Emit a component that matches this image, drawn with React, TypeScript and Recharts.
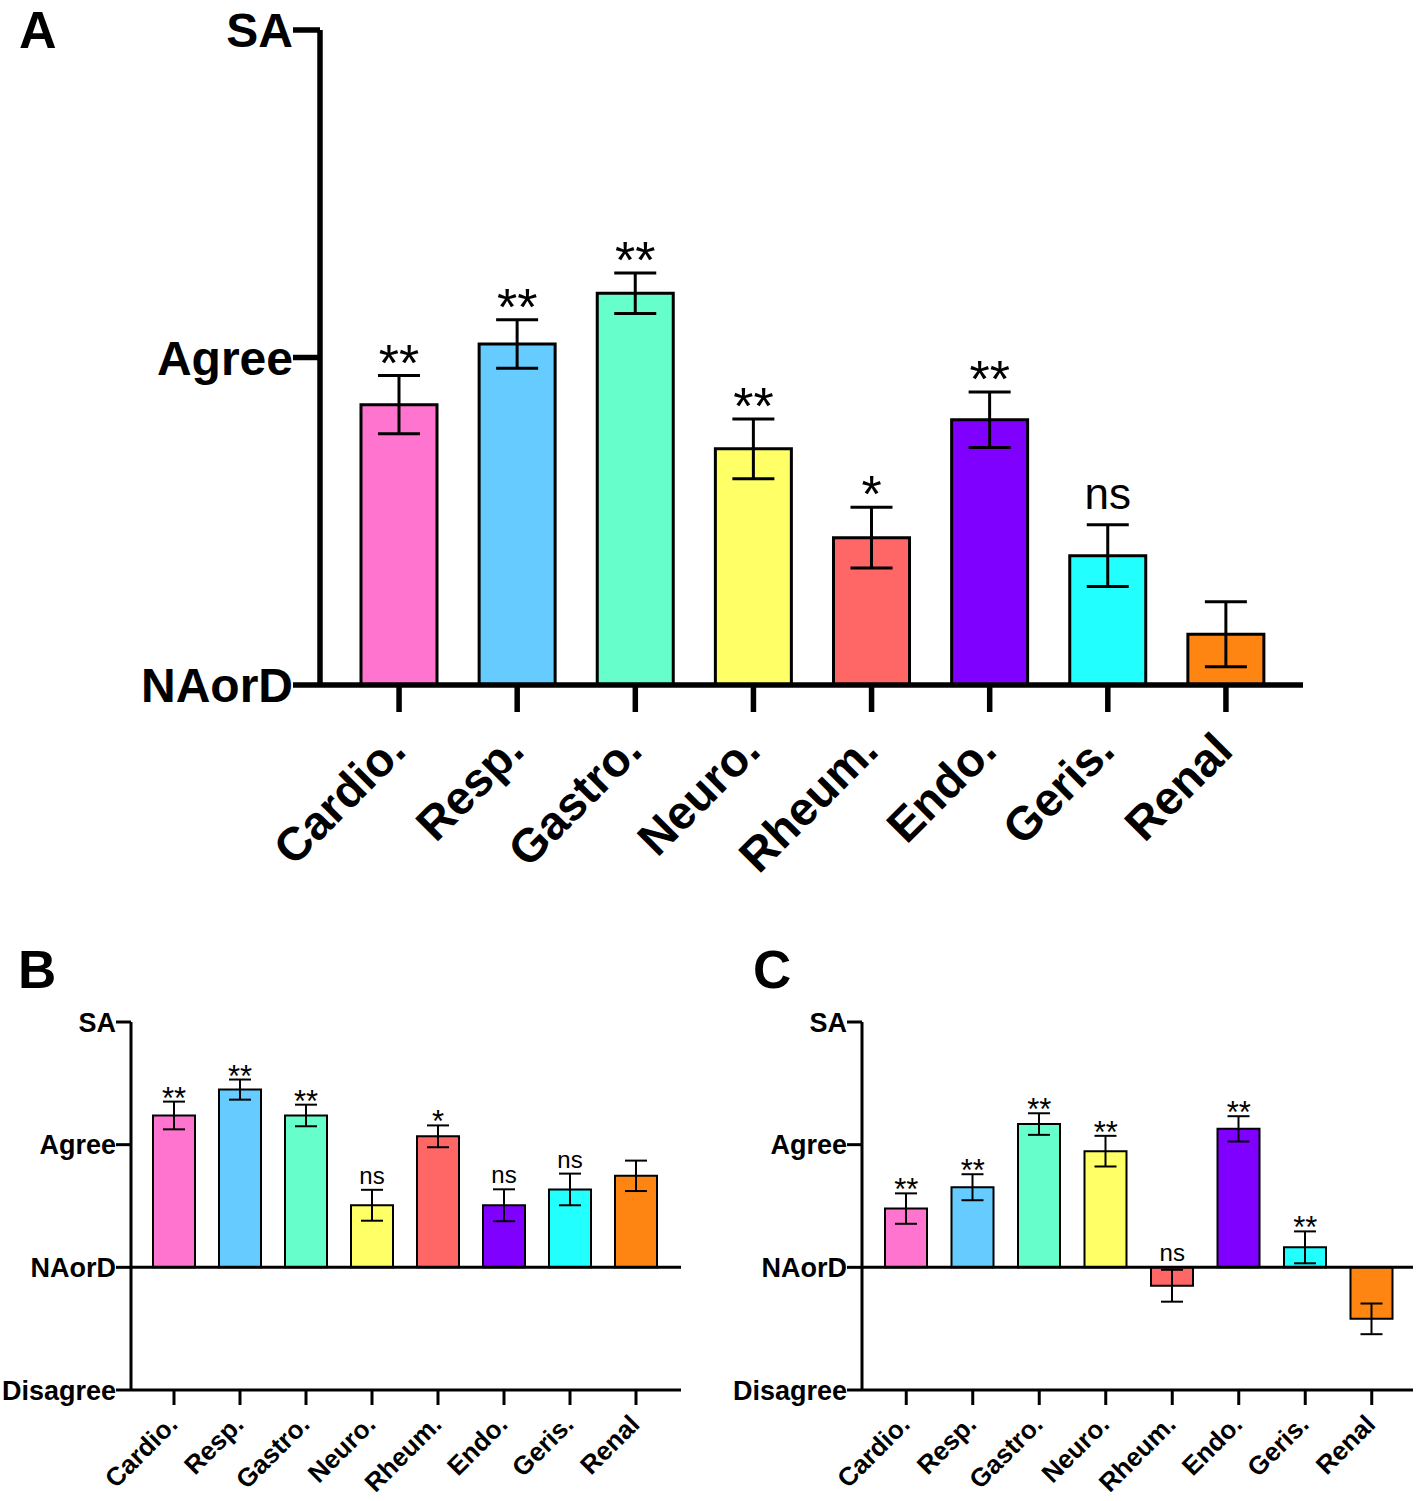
import React from 'react';
import { ComposedChart, Bar, Cell, ErrorBar, XAxis, YAxis, Line, ReferenceLine } from 'recharts';

const FONT = '"Liberation Sans", Arial, Helvetica, sans-serif';

const categories = ['Cardio.', 'Resp.', 'Gastro.', 'Neuro.', 'Rheum.', 'Endo.', 'Geris.', 'Renal'];
const barColors = ['#FF74CE', '#66CCFF', '#66FFCC', '#FFFF66', '#FF6666', '#8000FF', '#22FFFF', '#FF8512'];

const meanA = [0.856, 1.041, 1.196, 0.721, 0.45, 0.81, 0.395, 0.155];
const semA = [0.089, 0.074, 0.062, 0.091, 0.093, 0.085, 0.094, 0.099];
const sigA = ['**', '**', '**', '**', '*', '**', 'ns', ''];

const meanB = [1.238, 1.449, 1.238, 0.506, 1.068, 0.506, 0.635, 0.746];
const semB = [0.113, 0.082, 0.088, 0.126, 0.089, 0.13, 0.129, 0.124];
const sigB = ['**', '**', '**', 'ns', '*', 'ns', 'ns', ''];

const meanC = [0.479, 0.653, 1.168, 0.947, -0.15, 1.129, 0.163, -0.42];
const semC = [0.124, 0.106, 0.088, 0.125, 0.13, 0.103, 0.13, 0.125];
const sigC = ['**', '**', '**', '**', 'ns', '**', '**', ''];

const yTicksA = [0, 1, 2];
const yTickLabelsA = ['NAorD', 'Agree', 'SA'];
const yTicksBC = [-1, 0, 1, 2];
const yTickLabelsBC = ['Disagree', 'NAorD', 'Agree', 'SA'];

function buildRows(mean: number[], sem: number[], sig: string[]) {
  return categories.map((name, i) => ({
    name,
    mean: mean[i],
    sem: sem[i],
    sig: sig[i],
    labelPos: Math.max(mean[i] + sem[i], 0),
  }));
}

type PanelStyle = {
  left: number;
  top: number;
  width: number;
  height: number;
  margin: { top: number; right: number; bottom: number; left: number };
  yAxisWidth: number;
  xAxisHeight: number;
  padL: number;
  padR: number;
  barSize: number;
  axisW: number;
  barStroke: number;
  errW: number;
  capHalf: number;
  yTickSize: number;
  xTickSize: number;
  yFont: number;
  xFont: number;
  starFont: number;
  nsFont: number;
  starDy: number;
  nsDy: number;
  xLabelDx: number;
  xLabelDy: number;
  zeroLine: boolean;
};

const styleA: PanelStyle = {
  left: 0, top: 0, width: 1320, height: 900,
  margin: { top: 30, right: 17, bottom: 0, left: 0 },
  yAxisWidth: 320, xAxisHeight: 215, padL: 20, padR: 18,
  barSize: 76, axisW: 5.5, barStroke: 3, errW: 3, capHalf: 21,
  yTickSize: 27, xTickSize: 27, yFont: 48, xFont: 47,
  starFont: 52, nsFont: 44, starDy: 5, nsDy: -16,
  xLabelDx: 9, xLabelDy: 41, zeroLine: false,
};

const styleB: PanelStyle = {
  left: 0, top: 940, width: 700, height: 560,
  margin: { top: 82, right: 19, bottom: 0, left: 0 },
  yAxisWidth: 131, xAxisHeight: 110, padL: 10, padR: 12,
  barSize: 42, axisW: 3, barStroke: 2, errW: 2, capHalf: 11,
  yTickSize: 15, xTickSize: 15, yFont: 27, xFont: 26,
  starFont: 31, nsFont: 24, starDy: 7, nsDy: -6,
  xLabelDx: 5, xLabelDy: 21, zeroLine: true,
};

const styleC: PanelStyle = {
  ...styleB,
  left: 720, width: 696,
  margin: { top: 82, right: 3, bottom: 0, left: 0 },
  yAxisWidth: 142, padL: 11, padR: 8,
};

function makeXTick(s: PanelStyle) {
  return (props: any) => {
    const { x, y, payload } = props;
    const ax = x + s.xLabelDx;
    const ay = y + s.xLabelDy;
    return (
      <text
        x={ax}
        y={ay}
        transform={`rotate(-45 ${ax} ${ay})`}
        textAnchor="end"
        fontSize={s.xFont}
        fontWeight="bold"
        fontFamily={FONT}
        fill="#000"
      >
        {payload.value}
      </text>
    );
  };
}

function makeSigDot(s: PanelStyle) {
  return (props: any) => {
    const { cx, cy, payload, index } = props;
    const label: string = payload?.sig ?? '';
    if (!label || cx == null || cy == null) return <g key={`sig-${index}`} />;
    const isNs = label === 'ns';
    return (
      <text
        key={`sig-${index}`}
        x={cx}
        y={cy + (isNs ? s.nsDy : s.starDy)}
        textAnchor="middle"
        fontSize={isNs ? s.nsFont : s.starFont}
        fontFamily={FONT}
        fill="#000"
      >
        {label}
      </text>
    );
  };
}

function Panel({ s, rows, ticks, tickLabels }: { s: PanelStyle; rows: any[]; ticks: number[]; tickLabels: string[] }) {
  const domain: [number, number] = [ticks[0], ticks[ticks.length - 1]];
  return (
    <div style={{ position: 'absolute', left: s.left, top: s.top, width: s.width, height: s.height }}>
      <ComposedChart width={s.width} height={s.height} data={rows} margin={s.margin}>
        <XAxis
          dataKey="name"
          type="category"
          height={s.xAxisHeight}
          padding={{ left: s.padL, right: s.padR }}
          axisLine={{ stroke: '#000', strokeWidth: s.axisW }}
          tickLine={{ stroke: '#000', strokeWidth: s.axisW }}
          tickSize={s.xTickSize}
          tickMargin={0}
          interval={0}
          tick={makeXTick(s)}
        />
        <YAxis
          type="number"
          domain={domain}
          ticks={ticks}
          width={s.yAxisWidth}
          interval={0}
          allowDataOverflow
          axisLine={{ stroke: '#000', strokeWidth: s.axisW }}
          tickLine={{ stroke: '#000', strokeWidth: s.axisW }}
          tickSize={s.yTickSize}
          tickMargin={0}
          tick={{ fontSize: s.yFont, fontWeight: 'bold', fill: '#000', fontFamily: FONT }}
          tickFormatter={(v: number) => tickLabels[ticks.indexOf(v)] ?? ''}
        />
        <Bar dataKey="mean" barSize={s.barSize} stroke="#000" strokeWidth={s.barStroke} isAnimationActive={false}>
          {rows.map((r, i) => (
            <Cell key={r.name} fill={barColors[i]} />
          ))}
          <ErrorBar dataKey="sem" width={s.capHalf} stroke="#000" strokeWidth={s.errW} direction="y" />
        </Bar>
        {s.zeroLine && <ReferenceLine y={0} stroke="#000" strokeWidth={s.axisW} ifOverflow="extendDomain" />}
        <Line
          dataKey="labelPos"
          stroke="none"
          dot={makeSigDot(s)}
          activeDot={false}
          isAnimationActive={false}
          legendType="none"
        />
      </ComposedChart>
    </div>
  );
}

export default function App() {
  const rowsA = buildRows(meanA, semA, sigA);
  const rowsB = buildRows(meanB, semB, sigB);
  const rowsC = buildRows(meanC, semC, sigC);
  return (
    <div style={{ position: 'absolute', left: 0, top: 0, width: 1416, height: 1501, background: '#fff', overflow: 'hidden' }}>
      <Panel s={styleA} rows={rowsA} ticks={yTicksA} tickLabels={yTickLabelsA} />
      <Panel s={styleB} rows={rowsB} ticks={yTicksBC} tickLabels={yTickLabelsBC} />
      <Panel s={styleC} rows={rowsC} ticks={yTicksBC} tickLabels={yTickLabelsBC} />
      <svg width={1416} height={1501} style={{ position: 'absolute', left: 0, top: 0, pointerEvents: 'none' }}>
        <text x={19} y={48} fontSize={52} fontWeight="bold" fontFamily={FONT} fill="#000">A</text>
        <text x={18} y={988} fontSize={53} fontWeight="bold" fontFamily={FONT} fill="#000">B</text>
        <text x={753} y={988} fontSize={53} fontWeight="bold" fontFamily={FONT} fill="#000">C</text>
      </svg>
    </div>
  );
}
